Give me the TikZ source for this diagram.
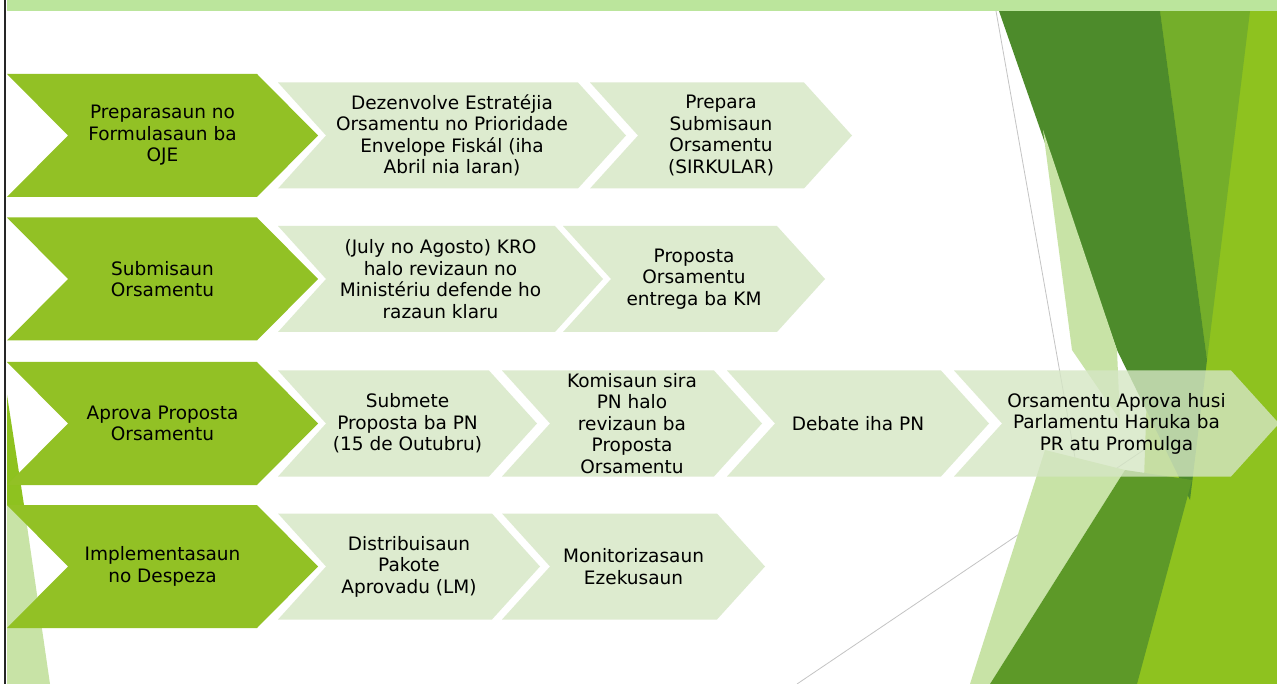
\documentclass[tikz,border=0pt]{standalone}
\usepackage{fontspec}
\setmainfont{DejaVu Sans}
\definecolor{chevgreen}{HTML}{92C125}
\definecolor{chevlight}{HTML}{D5E6C4}
\definecolor{topbar}{HTML}{BBE59C}
\definecolor{darkg}{HTML}{4D8B2B}
\definecolor{midg}{HTML}{74AE2A}
\definecolor{brightg}{HTML}{8EC21F}
\definecolor{paleg}{HTML}{C8E3A6}
\definecolor{linegray}{HTML}{C4C4C4}
\newcommand\Chev[8]{%
  \fill[#1] (#3,#5-#6) -- (#4-#7,#5-#6) -- (#4,#5) -- (#4-#7,#5+#6) -- (#3,#5+#6) -- (#3+#7,#5) -- cycle;
  \node[txt] (#2) at ({(#3+#4)/2},#5) {#8};}
\begin{document}
\begin{tikzpicture}[x=1pt,y=-1pt,
  txt/.style={align=center, font=\fontsize{18.5}{21.5}\selectfont, text=black, inner sep=0pt},
  gfill/.style={fill=chevgreen},
  lfill/.style={fill=chevlight, fill opacity=0.8},
  thin gray/.style={draw=linegray, line width=0.8pt}]
\useasboundingbox (0,0) rectangle (1277,684);
\fill[white] (0,0) rectangle (1277,684);
% --- background decoration (right) ---
\draw[thin gray] (996,11) -- (1115,684);
\draw[thin gray] (797,684) -- (1277,360);
\fill[brightg] (1160,11) -- (1277,11) -- (1277,684) -- (1137,684) -- cycle;
\fill[midg] (1160,11) -- (1250,11) -- (1207,360) -- cycle;
\fill[darkg] (999,11) -- (1160,11) -- (1207,360) -- (1190,500) -- (1117,350) -- cycle;
\fill[paleg] (1043,130) -- (1117,350) -- (1120,420) -- (1072,350) -- cycle;
\fill[paleg] (1045,450) -- (1125,470) -- (990,684) -- (970,684) -- cycle;
\fill[darkg!75!brightg] (1125,470) -- (1192,480) -- (1137,684) -- (990,684) -- cycle;
% --- left decoration ---
\fill[paleg] (7,505) -- (24,505) -- (50,684) -- (7,684) -- cycle;
\fill[brightg] (7,395) -- (24,505) -- (7,505) -- cycle;
% --- top bar and left rule ---
\fill[topbar] (7,0) rectangle (1277,11);
\draw[line width=2pt, black!85] (5,0) -- (5,684);
% --- row 1 ---
\Chev{gfill}{g1}{7}{318}{135.5}{61.5}{61}{Preparasaun no\\Formulasaun ba\\OJE}
\Chev{lfill}{a1}{278}{626}{135.5}{53}{48}{Dezenvolve Estratéjia\\Orsamentu no Prioridade\\Envelope Fiskál (iha\\Abril nia laran)}
\Chev{lfill}{a2}{590}{852}{135.5}{53}{48}{Prepara\\Submisaun\\Orsamentu\\(SIRKULAR)}
% --- row 2 ---
\Chev{gfill}{g2}{7}{318}{279}{61.5}{61}{Submisaun\\Orsamentu}
\Chev{lfill}{b1}{278}{603}{279}{53}{48}{(July no Agosto) KRO\\halo revizaun no\\Ministériu defende ho\\razaun klaru}
\Chev{lfill}{b2}{563}{825}{279}{53}{48}{Proposta\\Orsamentu\\entrega ba KM}
% --- row 3 ---
\Chev{gfill}{g3}{7}{318}{423.5}{61.5}{61}{Aprova Proposta\\Orsamentu}
\Chev{lfill}{c1}{278}{537}{423.5}{53}{48}{Submete\\Proposta ba PN\\(15 de Outubru)}
\Chev{lfill}{c2}{502}{762}{423.5}{53}{48}{Komisaun sira\\PN halo\\revizaun ba\\Proposta\\Orsamentu}
\Chev{lfill}{c3}{727}{989}{423.5}{53}{48}{Debate iha PN}
\Chev{lfill}{c4}{954}{1279}{423.5}{53}{48}{Orsamentu Aprova husi\\Parlamentu Haruka ba\\PR atu Promulga}
% --- row 4 ---
\Chev{gfill}{g4}{7}{318}{566.5}{61.5}{61}{Implementasaun\\no Despeza}
\Chev{lfill}{d1}{278}{540}{566.5}{53}{48}{Distribuisaun\\Pakote\\Aprovadu (LM)}
\Chev{lfill}{d2}{502}{765}{566.5}{53}{48}{Monitorizasaun\\Ezekusaun}
\end{tikzpicture}
\end{document}
